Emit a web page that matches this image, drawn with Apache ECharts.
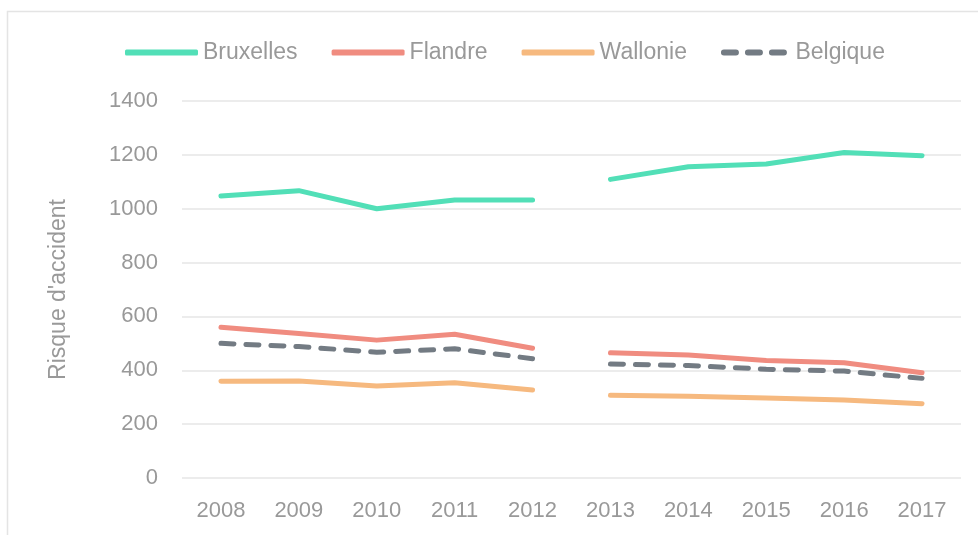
<!DOCTYPE html>
<html>
<head>
<meta charset="utf-8">
<script src="https://cdn.jsdelivr.net/npm/echarts@6/dist/echarts.min.js"></script>
<style>
  html, body { margin: 0; padding: 0; background: #fff; }
  #chart { width: 978px; height: 535px; }
</style>
</head>
<body>
<div id="chart"></div>
<script>
// années et risque d'accident par région
var years = ['2008', '2009', '2010', '2011', '2012', '2013', '2014', '2015', '2016', '2017'];
var bruxelles = [1047, 1067, 1000, 1032, 1032, 1109, 1156, 1166, 1209, 1197];
var flandre   = [560, 537, 512, 534, 482, 465, 457, 436, 428, 391];
var wallonie  = [359, 360, 342, 354, 327, 307, 304, 297, 290, 276];
var belgique  = [500, 488, 467, 480, 443, 423, 418, 404, 397, 370];
var yTicks = { min: 0, max: 1400, interval: 200 };

// la série est coupée entre 2012 et 2013
var cut = 5;
function part(arr, first) {
    return arr.map(function (v, i) {
        return first ? (i < cut ? v : null) : (i >= cut ? v : null);
    });
}

var txt = '#999999';
var font = 'Liberation Sans';

// icône de légende en pointillés (3 tirets arrondis)
var dashIcon = 'path://M3,0h12a3,3 0 0 1 0,6h-12a3,3 0 0 1 0,-6z' +
    'M27,0h12a3,3 0 0 1 0,6h-12a3,3 0 0 1 0,-6z' +
    'M51,0h12a3,3 0 0 1 0,6h-12a3,3 0 0 1 0,-6z';

var regions = [
    { name: 'Bruxelles', data: bruxelles, color: '#52dfb7', dash: 'solid' },
    { name: 'Flandre', data: flandre, color: '#f08c80', dash: 'solid' },
    { name: 'Wallonie', data: wallonie, color: '#f6b97f', dash: 'solid' },
    { name: 'Belgique', data: belgique, color: '#737b83', dash: [13, 12] }
];

var series = [];
regions.forEach(function (r) {
    [true, false].forEach(function (first) {
        series.push({
            name: r.name,
            type: 'line',
            data: part(r.data, first),
            symbol: 'none',
            connectNulls: false,
            color: r.color,
            lineStyle: { color: r.color, width: 5, type: r.dash, cap: 'round', join: 'round' },
            z: r.name == 'Belgique' ? 3 : 2
        });
    });
});

var myChart = echarts.init(document.getElementById('chart'));

option = {
    animation: false,
    textStyle: { fontFamily: font },
    graphic: [{
        type: 'rect',
        shape: { x: 7.5, y: 11.5, width: 990, height: 540 },
        style: { fill: 'none', stroke: '#e4e4e4', lineWidth: 1.5 },
        silent: true
    }],
    legend: {
        data: [
            { name: 'Bruxelles', icon: 'roundRect' },
            { name: 'Flandre', icon: 'roundRect' },
            { name: 'Wallonie', icon: 'roundRect' },
            { name: 'Belgique', icon: dashIcon }
        ],
        left: 120,
        top: 36,
        itemWidth: 73,
        itemHeight: 6,
        itemGap: 34,
        textStyle: { color: txt, fontSize: 23, fontFamily: font }
    },
    grid: { left: 182, right: 17, top: 101, bottom: 57 },
    xAxis: {
        type: 'category',
        data: years,
        boundaryGap: true,
        axisLine: { show: false },
        axisTick: { show: false },
        axisLabel: { color: txt, fontSize: 22, fontFamily: font, margin: 22 }
    },
    yAxis: {
        type: 'value',
        min: yTicks.min,
        max: yTicks.max,
        interval: yTicks.interval,
        name: "Risque d'accident",
        nameLocation: 'middle',
        nameRotate: 90,
        nameGap: 112,
        nameTextStyle: { color: txt, fontSize: 23, fontFamily: font },
        axisLine: { show: false },
        axisTick: { show: false },
        axisLabel: {
            color: txt, fontSize: 22, fontFamily: font, margin: 24,
            formatter: function (v) { return String(v); }
        },
        splitLine: { lineStyle: { color: '#e6e6e6', width: 1.5 } }
    },
    series: series
};

myChart.setOption(option);
</script>
</body>
</html>
